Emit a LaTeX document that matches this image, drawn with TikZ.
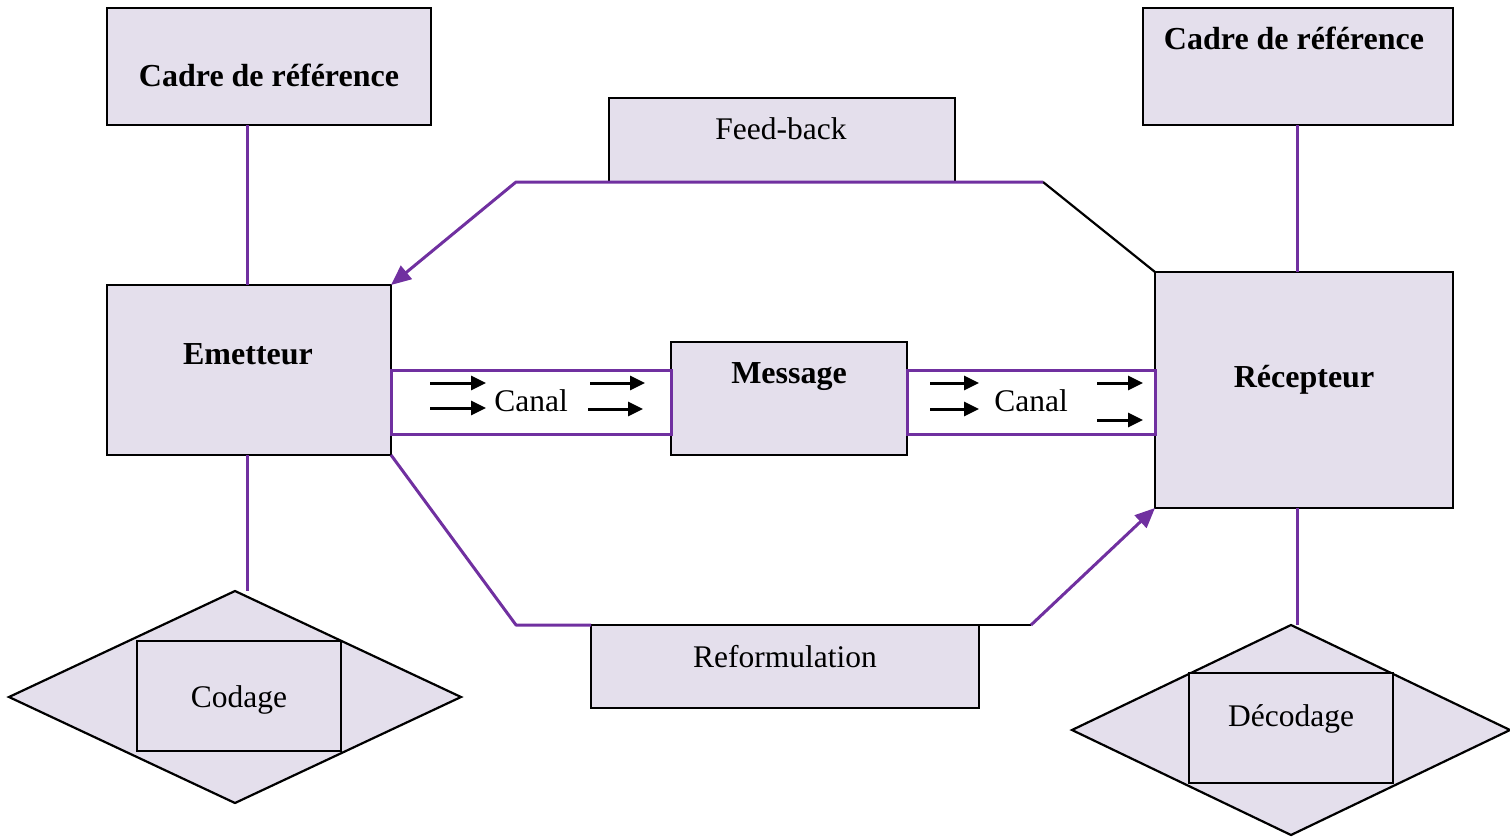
\documentclass[tikz,border=0pt]{standalone}
\usepackage{fontspec}
\setmainfont{Liberation Serif}
\usetikzlibrary{arrows.meta,fit,shapes.geometric}
\definecolor{boxfill}{HTML}{E4DFEC}
\definecolor{violetline}{HTML}{7030A0}
\begin{document}
\begin{tikzpicture}[x=1pt,y=-1pt,
  box/.style={draw=black, line width=2.2pt, fill=boxfill, inner sep=0pt, outer sep=0pt, rectangle},
  canalbox/.style={draw=violetline, line width=3pt, fill=white, inner sep=0pt, outer sep=0pt, rectangle},
  lab/.style={font=\fontsize{31.5}{37}\selectfont, inner sep=0pt},
  blab/.style={font=\fontsize{32}{38}\selectfont\bfseries, inner sep=0pt},
  vline/.style={draw=violetline, line width=3pt, line join=round},
  bline/.style={draw=black, line width=2.2pt},
  vtip/.style={-{Triangle[length=20pt,width=17pt]}},
  smallarrow/.style={draw=black, line width=3pt, -{Triangle[length=15pt,width=14pt]}},
  losange/.style={draw=black, line width=2.2pt, fill=boxfill, diamond, inner sep=0pt, outer sep=0pt}
]
\useasboundingbox (0,0) rectangle (1510,836);

% diamonds (behind)
\node[losange, minimum width=452pt, minimum height=212pt] (dl) at (235,697) {};
\node[losange, minimum width=438pt, minimum height=210pt] (dr) at (1291,730) {};

% boxes
\node[box, fit={(107,8) (431,125)}] (cadreL) {};
\node[box, fit={(1143,8) (1453,125)}] (cadreR) {};
\node[box, fit={(107,285) (391,455)}] (em) {};
\node[box, fit={(671,342) (907,455)}] (msg) {};
\node[box, fit={(1155,272) (1453,508)}] (rec) {};
\node[canalbox, fit={(391,370) (671,434)}] (canL) {};
\node[canalbox, fit={(907,370) (1155,434)}] (canR) {};
\node[box, fit={(609,98) (955,182)}] (fb) {};
\node[box, fit={(591,625) (979,708)}] (ref) {};
\node[box, fit={(137,641) (341,751)}] (cod) {};
\node[box, fit={(1189,673) (1393,783)}] (dec) {};

% labels
\node[blab] (tCadreL) at (269,75) {Cadre de référence};
\node[blab] (tCadreR) at (1294,38) {Cadre de référence};
\node[blab] (tEm) at (248,354) {Emetteur};
\node[blab] (tMsg) at (789,377) {Message};
\node[blab] (tRec) at (1304,380) {Récepteur};
\node[lab] (tCanL) at (531,401) {Canal};
\node[lab] (tCanR) at (1031,401) {Canal};
\node[lab] (tFb) at (781,129) {Feed-back};
\node[lab] (tRef) at (785,657) {Reformulation};
\node[lab] (tCod) at (239,700) {Codage};
\node[lab] (tDec) at (1291,719) {Décodage};

% vertical links
\draw[vline] (cadreL.south -| 247,0) -- (em.north -| 247,0);
\draw[vline] (em.south -| 247,0) -- (dl.north -| 247,0);
\draw[vline] (cadreR.south -| 1297,0) -- (rec.north -| 1297,0);
\draw[vline] (rec.south -| 1297,0) -- (dr.north -| 1297,0);

% feedback path
\coordinate (fbR) at (1043,182);
\coordinate (fbL) at (516,182);
\draw[bline] (rec.north west) -- (fbR);
\draw[vline, vtip] (fbR) -- (fbL) -- (em.north east);

% reformulation path
\coordinate (rfL) at (516,625);
\coordinate (rfR) at (1031,625);
\draw[vline] (em.south east) -- (rfL) -- (ref.north west);
\draw[bline] (ref.north east) -- (rfR);
\draw[vline, vtip] (rfR) -- (rec.south west);

% canal arrows
\coordinate (a1s) at (430,383); \coordinate (a1e) at (486,383);
\coordinate (a2s) at (430,408); \coordinate (a2e) at (486,408);
\coordinate (a3s) at (590,383); \coordinate (a3e) at (645,383);
\coordinate (a4s) at (588,409); \coordinate (a4e) at (643,409);
\coordinate (b1s) at (930,383); \coordinate (b1e) at (979,383);
\coordinate (b2s) at (930,409); \coordinate (b2e) at (979,409);
\coordinate (b3s) at (1097,383); \coordinate (b3e) at (1143,383);
\coordinate (b4s) at (1097,420); \coordinate (b4e) at (1143,420);
\foreach \p in {a1,a2,a3,a4,b1,b2,b3,b4} \draw[smallarrow] (\p s) -- (\p e);
\end{tikzpicture}
\end{document}
